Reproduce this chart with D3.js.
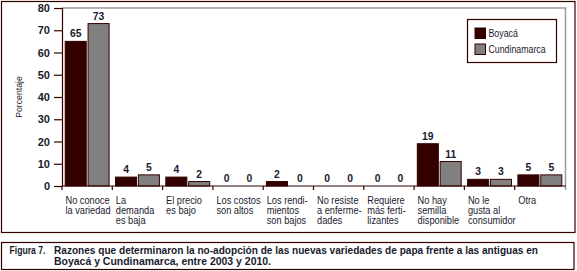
<!DOCTYPE html>
<html>
<head>
<meta charset="utf-8">
<script src="https://cdn.jsdelivr.net/npm/d3@7/dist/d3.min.js"></script>
<style>
  html, body { margin: 0; padding: 0; background: #fff; }
  svg { display: block; }
  text { font-family: "Liberation Sans", Arial, sans-serif; }
</style>
</head>
<body>
<svg id="chart" width="577" height="271"></svg>
<script>
const categories = [
  ["No conoce", "la variedad"],
  ["La", "demanda", "es baja"],
  ["El precio", "es bajo"],
  ["Los costos", "son altos"],
  ["Los rendi-", "mientos", "son bajos"],
  ["No resiste", "a enferme-", "dades"],
  ["Requiere", "más ferti-", "lizantes"],
  ["No hay", "semilla", "disponible"],
  ["No le", "gusta al", "consumidor"],
  ["Otra"]
];
const seriesNames = ["Boyacá", "Cundinamarca"];
const boyaca = [65, 4, 4, 0, 2, 0, 0, 19, 3, 5];
const cundinamarca = [73, 5, 2, 0, 0, 0, 0, 11, 3, 5];
const yTicks = [0, 10, 20, 30, 40, 50, 60, 70, 80];
const captionLines = [
  "Figura 7.",
  "Razones que determinaron la no-adopción de las nuevas variedades de papa frente a las antiguas en",
  "Boyacá y Cundinamarca, entre 2003 y 2010."
];

const dark = "#330000";
const colors = ["#330000", "#808080"];
const textCol = "#1a1a2e";
const SX = 0.88;

const svg = d3.select("#chart");

// outer frames
svg.append("rect").attr("x", 1.5).attr("y", 1.5).attr("width", 573.5).attr("height", 231)
  .attr("fill", "none").attr("stroke", dark).attr("stroke-width", 1.2);
svg.append("rect").attr("x", 1.5).attr("y", 242.5).attr("width", 572.5).attr("height", 27)
  .attr("fill", "none").attr("stroke", dark).attr("stroke-width", 1.2);

const x0 = d3.scaleBand().domain(d3.range(categories.length)).range([62, 565]).paddingInner(0).paddingOuter(0);
const y = d3.scaleLinear().domain([0, 80]).range([186, 8]);
const x1 = d3.scaleBand().domain([0, 1]).range([0, x0.bandwidth()]).paddingInner(0.08).paddingOuter(0.14);

// gray plot frame (top and right)
svg.append("path")
  .attr("d", `M${x0.range()[0]},${y(80)}H${x0.range()[1] + 0.5}V${y(0) + 4}`)
  .attr("fill", "none").attr("stroke", "#9a9a9a").attr("stroke-width", 1.5);

// y axis
const yAxis = svg.append("g").attr("transform", "translate(62,0)")
  .call(d3.axisLeft(y).tickValues(yTicks).tickSize(8).tickPadding(4).tickFormat(d3.format("d")));
yAxis.select(".domain").attr("stroke", dark).attr("stroke-width", 1.2);
yAxis.selectAll(".tick line").attr("stroke", dark).attr("stroke-width", 1.2);
yAxis.selectAll(".tick text").attr("fill", textCol).attr("font-size", 11).attr("font-weight", "bold")
  .style("font-family", '"Liberation Sans", Arial, sans-serif');

// y title
svg.append("text").attr("transform", "translate(22,97) rotate(-90) scale(0.92,1)")
  .attr("text-anchor", "middle").attr("font-size", 9.5).attr("fill", textCol).text("Porcentaje");

// bars
const groups = svg.append("g").selectAll("g").data(categories.map((c, i) => i)).join("g")
  .attr("transform", i => `translate(${x0(i)},0)`);
const barData = i => [boyaca[i], cundinamarca[i]].map((v, s) => ({ v, s }));
groups.selectAll("rect").data(barData).join("rect")
  .attr("x", d => x1(d.s)).attr("width", x1.bandwidth())
  .attr("y", d => y(d.v)).attr("height", d => y(0) - y(d.v))
  .attr("fill", d => colors[d.s]).attr("stroke", dark).attr("stroke-width", 1)
  .attr("display", d => d.v === 0 ? "none" : null);
groups.selectAll("text.val").data(barData).join("text").attr("class", "val")
  .attr("transform", d => `translate(${x1(d.s) + x1.bandwidth() / 2},${y(d.v) - 4}) scale(0.9,1)`)
  .attr("text-anchor", "middle").attr("font-size", 11.5).attr("font-weight", "bold")
  .attr("fill", textCol).text(d => d.v);

// x axis
const xAxisG = svg.append("g").attr("transform", `translate(0,${y(0)})`);
xAxisG.append("line").attr("x1", 62).attr("x2", 566).attr("y1", 0).attr("y2", 0)
  .attr("stroke", dark).attr("stroke-width", 1.2);
xAxisG.selectAll("line.tk").data(d3.range(categories.length)).join("line").attr("class", "tk")
  .attr("x1", i => x0(i)).attr("x2", i => x0(i)).attr("y1", 0).attr("y2", 4)
  .attr("stroke", dark).attr("stroke-width", 1.2);

// category labels
const labs = svg.append("g").selectAll("text").data(categories).join("text")
  .attr("transform", (d, i) => `translate(${x0(i) + 3.5},203.5) scale(${SX},1)`)
  .attr("font-size", 10.5).attr("fill", textCol);
labs.selectAll("tspan").data(d => d).join("tspan")
  .attr("x", 0)
  .attr("dy", (d, j) => j === 0 ? 0 : 10.5).text(d => d);

// legend
const lg = svg.append("g");
lg.append("rect").attr("x", 467.5).attr("y", 19.5).attr("width", 89).attr("height", 43)
  .attr("fill", "#fff").attr("stroke", dark).attr("stroke-width", 1.2);
seriesNames.forEach((n, i) => {
  lg.append("rect").attr("x", 475).attr("y", 28 + i * 16).attr("width", 10.5).attr("height", 10.5)
    .attr("fill", colors[i]).attr("stroke", dark).attr("stroke-width", 1);
  lg.append("text").attr("transform", `translate(488.5,${37 + i * 16}) scale(${SX},1)`)
    .attr("font-size", 10).attr("fill", textCol).text(n);
});

// caption
const cap = svg.append("g").attr("font-weight", "bold").attr("font-size", 10.5).attr("fill", textCol);
cap.append("text").attr("x", 9.5).attr("y", 254).attr("textLength", 36)
  .attr("lengthAdjust", "spacingAndGlyphs").text(captionLines[0]);
cap.append("text").attr("x", 54).attr("y", 254).attr("textLength", 484)
  .attr("lengthAdjust", "spacingAndGlyphs").text(captionLines[1]);
cap.append("text").attr("x", 54).attr("y", 264.5).attr("textLength", 217)
  .attr("lengthAdjust", "spacingAndGlyphs").text(captionLines[2]);
</script>
</body>
</html>
